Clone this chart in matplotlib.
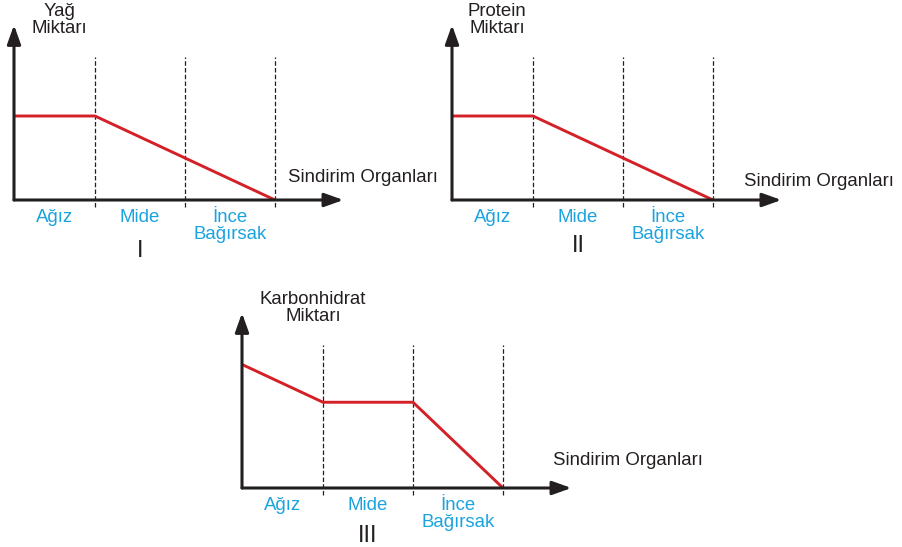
import matplotlib.pyplot as plt

plt.rcParams['font.family'] = ['Liberation Sans', 'DejaVu Sans']

# organ segments along the digestive tract (boundary index 0..3)
organs = ['Ağız', 'Mide', 'İnce\nBağırsak']
edges = [0, 1, 2, 3]

# relative amounts (0-100) at the segment boundaries
fat_x = [0, 1, 3]
fat_y = [48, 48, 0]
protein_x = [0, 1, 3]
protein_y = [48, 48, 0]
carb_x = [0, 1, 2, 3]
carb_y = [73, 49, 49, 0]

y_titles = ['Yağ\nMiktarı', 'Protein\nMiktarı', 'Karbonhidrat\nMiktarı']
x_title = 'Sindirim Organları'
numerals = ['I', 'II', 'III']

dark = '#231F20'
red = '#D42027'
blue = '#1AA3DF'
fs = 13.4

W, H = 902, 547
X0, X1 = 0.1, 3.76          # visible x range of every chart
PX_PER_UNIT = 90
AX_H = 175

# axis_x, origin_y, y-title centre dx, x-title dx, x-title dy, numeral dy (pixels)
layout = [
    (14, 200, 45, 274, 18, -57),
    (452, 200, 45, 292, 14, -52),
    (242, 488, 71, 311, 23, -54),
]
series = [(fat_x, fat_y), (protein_x, protein_y), (carb_x, carb_y)]

fig = plt.figure(figsize=(W / 100, H / 100), dpi=100)

for k, (ax_x, oy, tdx, xtdx, xtdy, ndy) in enumerate(layout):
    ax_w = (X1 - X0) * PX_PER_UNIT
    ax = fig.add_axes([ax_x / W, 1 - oy / H, ax_w / W, AX_H / H])
    ax.set_xlim(X0, X1)
    ax.set_ylim(0, 100)
    ax.axis('off')

    # dashed organ boundaries
    ax.vlines(edges[1:], -4, 81.5, colors=dark, lw=0.9,
              linestyles=(0, (3.6, 1.8)), clip_on=False)

    # amount curve
    xs, ys = series[k]
    ax.plot(xs, ys, color=red, lw=2.1, zorder=3)

    # axes with arrow heads
    arrow = dict(arrowstyle='-|>,head_length=0.95,head_width=0.34', lw=2.2,
                 color=dark, shrinkA=0, shrinkB=0, mutation_scale=12)
    ax.annotate('', xy=(1, 0), xytext=(0, 0), xycoords='axes fraction', arrowprops=arrow, zorder=4)
    ax.annotate('', xy=(0, 1), xytext=(0, 0), xycoords='axes fraction', arrowprops=arrow, zorder=4)

    # organ names under the axis
    for i, name in enumerate(organs):
        xc = (max(edges[i], X0) + edges[i + 1]) / 2
        for j, line in enumerate(name.split('\n')):
            ax.annotate(line, xy=(xc, 0), xytext=(0, -22 - 17 * j),
                        textcoords='offset pixels', ha='center', va='baseline',
                        color=blue, fontsize=fs, annotation_clip=False)

    # y axis title
    for j, line in enumerate(y_titles[k].split('\n')):
        ax.annotate(line, xy=(X0, 0), xytext=(tdx, 184 - 17 * j),
                    textcoords='offset pixels', ha='center', va='baseline',
                    color=dark, fontsize=fs, annotation_clip=False)

    # x axis title
    ax.annotate(x_title, xy=(X0, 0), xytext=(xtdx, xtdy), textcoords='offset pixels',
                ha='left', va='baseline', color=dark, fontsize=fs, annotation_clip=False)

    # chart number
    ax.annotate(numerals[k], xy=(1.5, 0), xytext=(0, ndy), textcoords='offset pixels',
                ha='center', va='baseline', color=dark, fontsize=17, annotation_clip=False)

fig.savefig('out.png', dpi=100)
